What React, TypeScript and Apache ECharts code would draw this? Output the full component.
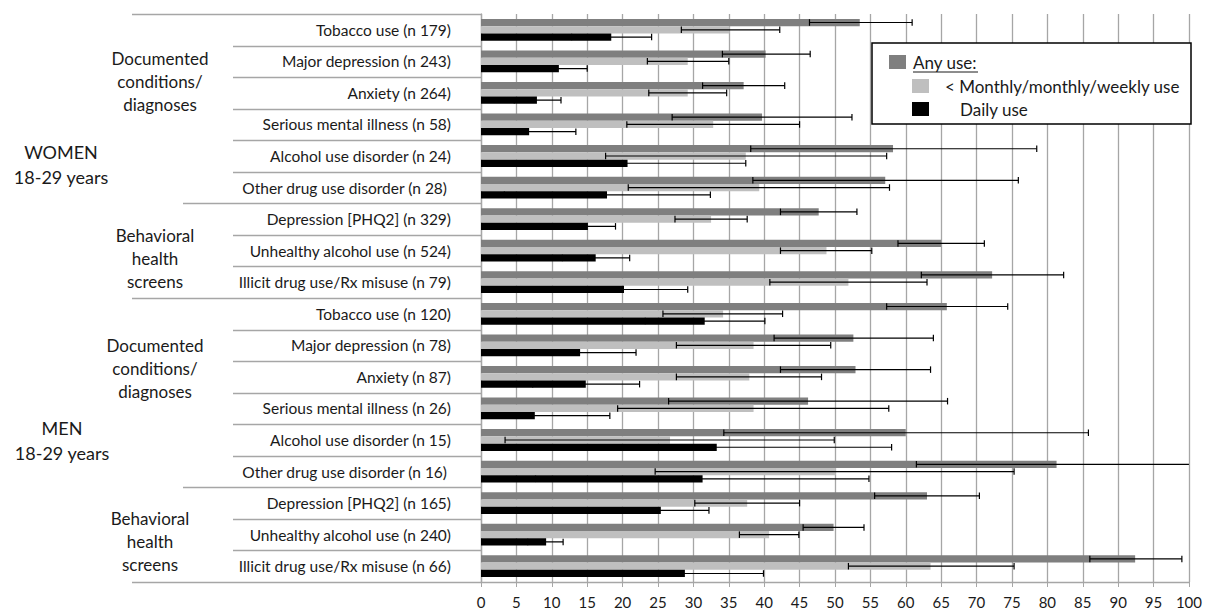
import React, { useEffect, useRef } from "react";
import * as echarts from "echarts";

const categories = [
  "Tobacco use (n 179)",
  "Major depression (n 243)",
  "Anxiety (n 264)",
  "Serious mental illness (n 58)",
  "Alcohol use disorder (n 24)",
  "Other drug use disorder (n 28)",
  "Depression [PHQ2] (n 329)",
  "Unhealthy alcohol use (n 524)",
  "Illicit drug use/Rx misuse (n 79)",
  "Tobacco use (n 120)",
  "Major depression (n 78)",
  "Anxiety (n 87)",
  "Serious mental illness (n 26)",
  "Alcohol use disorder (n 15)",
  "Other drug use disorder (n 16)",
  "Depression [PHQ2] (n 165)",
  "Unhealthy alcohol use (n 240)",
  "Illicit drug use/Rx misuse (n 66)",
];

const anyUse = [53.5, 40.2, 37.1, 39.7, 58.2, 57.1, 47.7, 65.0, 72.2, 65.8, 52.6, 52.9, 46.2, 60.0, 81.3, 63.0, 49.8, 92.4];
const anyLow = [46.4, 34.1, 31.3, 27.0, 38.1, 38.4, 42.3, 58.9, 62.2, 57.3, 41.4, 42.3, 26.5, 34.3, 61.5, 55.6, 45.5, 86.0];
const anyHigh = [60.9, 46.5, 42.9, 52.4, 78.5, 75.9, 53.1, 71.1, 82.3, 74.4, 63.9, 63.5, 65.9, 85.8, 100, 70.4, 54.1, 99.0];

const monthlyUse = [35.1, 29.2, 29.2, 32.8, 37.4, 39.3, 32.5, 48.8, 51.9, 34.2, 38.5, 37.9, 38.5, 26.7, 50.1, 37.6, 40.7, 63.5];
const monthlyLow = [28.3, 23.5, 23.7, 20.6, 17.6, 20.8, 27.4, 42.3, 40.8, 25.7, 27.6, 27.6, 19.3, 3.4, 24.6, 30.2, 36.5, 51.9];
const monthlyHigh = [42.2, 35.0, 34.7, 45.0, 57.3, 57.7, 37.6, 55.2, 63.0, 42.6, 49.4, 48.1, 57.6, 49.9, 75.3, 45.0, 44.9, 75.3];

const dailyUse = [18.4, 11.0, 7.9, 6.8, 20.7, 17.8, 15.1, 16.2, 20.2, 31.6, 14.0, 14.8, 7.6, 33.3, 31.3, 25.4, 9.2, 28.8];
const dailyLow = [12.8, 7.0, 4.7, 0.3, 4.2, 3.3, 11.3, 11.5, 11.3, 23.2, 6.2, 7.3, 0.5, 8.4, 7.7, 18.7, 6.6, 17.9];
const dailyHigh = [24.1, 15.0, 11.3, 13.4, 37.4, 32.4, 19.0, 21.0, 29.2, 40.1, 21.9, 22.4, 18.2, 58.0, 54.8, 32.2, 11.6, 39.9];

const seriesNames = ["Any use:", "< Monthly/monthly/weekly use", "Daily use"];
const seriesColors = ["#7f7f7f", "#bfbfbf", "#000000"];

const genderGroups = [
  { label: "WOMEN\n18-29 years", start: 0, end: 9 },
  { label: "MEN\n18-29 years", start: 9, end: 18 },
];
const subGroups = [
  { label: "Documented\nconditions/\ndiagnoses", start: 0, end: 6 },
  { label: "Behavioral\nhealth\nscreens", start: 6, end: 9 },
  { label: "Documented\nconditions/\ndiagnoses", start: 9, end: 15 },
  { label: "Behavioral\nhealth\nscreens", start: 15, end: 18 },
];

const xTicks = { min: 0, max: 100, interval: 5 };

// layout constants
const W = 1205;
const H = 611;
const GRID = { left: 481, right: 14, top: 14, bottom: 29 };
const FONT = "Lato, 'Liberation Sans', sans-serif";
const BAR_FRAC = 0.23;
const LINE_COLOR = "#a6a6a6";

const genderLabelPos = [
  { x: 61, y: 164 },
  { x: 62, y: 440 },
];
const subLabelPos = [
  { x: 160, y: 81 },
  { x: 155, y: 258 },
  { x: 155, y: 368 },
  { x: 150, y: 541 },
];

export default function App() {
  const ref = useRef<HTMLDivElement>(null);

  useEffect(() => {
    if (!ref.current) return;
    const chart = echarts.init(ref.current, null, { renderer: "svg" });

    const plotTop = GRID.top;
    const plotBottom = H - GRID.bottom;
    const rowH = (plotBottom - plotTop) / categories.length;

    const graphics: any[] = [];
    // separator lines on the left
    const genderBounds = new Set<number>();
    genderGroups.forEach((g) => {
      genderBounds.add(g.start);
      genderBounds.add(g.end);
    });
    const subBounds = new Set<number>();
    subGroups.forEach((g) => {
      subBounds.add(g.start);
      subBounds.add(g.end);
    });
    for (let b = 0; b <= categories.length; b++) {
      const y = Math.round(plotTop + b * rowH) + 0.5;
      const x0 = genderBounds.has(b) ? 132 : subBounds.has(b) ? 183 : 233;
      graphics.push({
        type: "line",
        shape: { x1: x0, y1: y, x2: GRID.left, y2: y },
        style: { stroke: LINE_COLOR, lineWidth: 1.3 },
        silent: true,
      });
    }
    genderGroups.forEach((g, i) => {
      graphics.push({
        type: "text",
        x: genderLabelPos[i].x,
        y: genderLabelPos[i].y,
        style: {
          text: g.label,
          font: `18px ${FONT}`,
          fill: "#1a1a1a",
          align: "center",
          verticalAlign: "middle",
          lineHeight: 25,
        },
      });
    });
    subGroups.forEach((g, i) => {
      graphics.push({
        type: "text",
        x: subLabelPos[i].x,
        y: subLabelPos[i].y,
        style: {
          text: g.label,
          font: `17px ${FONT}`,
          fill: "#1a1a1a",
          align: "center",
          verticalAlign: "middle",
          lineHeight: 23,
        },
      });
    });

    // legend
    const lg = { x: 872, y: 43, w: 319, h: 81 };
    graphics.push({
      type: "rect",
      shape: { x: lg.x, y: lg.y, width: lg.w, height: lg.h },
      style: { fill: "#fff", stroke: "#000", lineWidth: 1.5 },
      z: 10,
    });
    const legendItems = [
      { sx: 889, sy: 55, tx: 913, ty: 62, underline: true },
      { sx: 912, sy: 79, tx: 945, ty: 86, underline: false },
      { sx: 912, sy: 102, tx: 960, ty: 109, underline: false },
    ];
    legendItems.forEach((it, i) => {
      graphics.push({
        type: "rect",
        shape: { x: it.sx, y: it.sy, width: 17, height: 14 },
        style: { fill: seriesColors[i] },
        z: 11,
      });
      graphics.push({
        type: "text",
        x: it.tx,
        y: it.ty,
        style: {
          text: seriesNames[i],
          font: `17px ${FONT}`,
          fill: "#1a1a1a",
          align: "left",
          verticalAlign: "middle",
        },
        z: 11,
      });
    });
    graphics.push({
      type: "line",
      shape: { x1: 913, y1: 72, x2: 978, y2: 72 },
      style: { stroke: "#1a1a1a", lineWidth: 1 },
      z: 11,
    });

    const lows = [anyLow, monthlyLow, dailyLow];
    const highs = [anyHigh, monthlyHigh, dailyHigh];
    const values = [anyUse, monthlyUse, dailyUse];

    const barSeries = values.map((v, k) => ({
      name: seriesNames[k],
      type: "bar",
      data: v,
      barWidth: BAR_FRAC * 100 + "%",
      barGap: "0%",
      itemStyle: { color: seriesColors[k] },
      silent: true,
      z: 2,
    }));

    const errSeries = values.map((_, k) => ({
      type: "custom",
      name: seriesNames[k] + " CI",
      data: categories.map((_, i) => [i, lows[k][i], highs[k][i]]),
      encode: { x: [1, 2], y: 0 },
      z: 5,
      silent: true,
      renderItem: (params: any, api: any) => {
        const cat = api.value(0);
        const lo = api.value(1);
        const hi = api.value(2);
        const pLo = api.coord([lo, cat]);
        const pHi = api.coord([hi, cat]);
        const band = api.size([0, 1])[1];
        const bw = band * BAR_FRAC;
        const y = pLo[1] + (k - 1) * bw;
        const cap = bw * 0.45;
        const st = { stroke: "#000", lineWidth: 1.2 };
        const children: any[] = [
          { type: "line", shape: { x1: pLo[0], y1: y, x2: pHi[0], y2: y }, style: st },
          { type: "line", shape: { x1: pLo[0], y1: y - cap, x2: pLo[0], y2: y + cap }, style: st },
        ];
        if (hi < xTicks.max) {
          children.push({ type: "line", shape: { x1: pHi[0], y1: y - cap, x2: pHi[0], y2: y + cap }, style: st });
        }
        return { type: "group", children };
      },
    }));

    chart.setOption({
      animation: false,
      grid: { ...GRID, containLabel: false },
      xAxis: {
        type: "value",
        min: xTicks.min,
        max: xTicks.max,
        interval: xTicks.interval,
        axisLine: { show: true, lineStyle: { color: LINE_COLOR, width: 1.3 } },
        axisTick: { show: true, length: 5, lineStyle: { color: LINE_COLOR } },
        splitLine: { show: true, lineStyle: { color: LINE_COLOR, width: 1.3 } },
        axisLabel: { fontSize: 15, fontFamily: FONT, color: "#1a1a1a", margin: 12 },
      },
      yAxis: {
        type: "category",
        inverse: true,
        data: categories,
        axisLine: { show: true, lineStyle: { color: LINE_COLOR, width: 1.3 } },
        axisTick: { show: false },
        splitLine: { show: false },
        axisLabel: {
          fontSize: 15.5,
          fontFamily: FONT,
          color: "#1a1a1a",
          margin: 30,
          formatter: (v: string) => (v.startsWith("Other drug") ? "{o|" + v + "}" : v),
          rich: { o: { fontSize: 15.5, fontFamily: FONT, color: "#1a1a1a", padding: [0, 4, 0, 0] } },
        },
      },
      series: [...barSeries, ...errSeries],
      graphic: graphics,
    });

    return () => chart.dispose();
  }, []);

  return (
    <div
      ref={ref}
      style={{ position: "absolute", left: 0, top: 0, width: W, height: H, background: "#fff" }}
    />
  );
}
